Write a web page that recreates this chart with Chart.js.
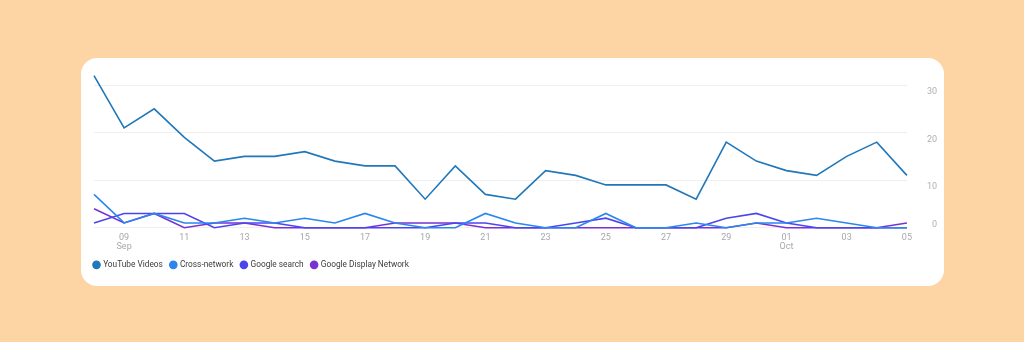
<!DOCTYPE html>
<html>
<head>
<meta charset="utf-8">
<script src="https://cdn.jsdelivr.net/npm/chart.js@4"></script>
<style>
  html, body { margin: 0; padding: 0; }
  body { width: 1024px; height: 342px; background: #fdd4a3; position: relative; overflow: hidden; font-family: Roboto, sans-serif; }
  .card { position: absolute; left: 81px; top: 58px; width: 863px; height: 228px; background: #fff; border-radius: 16px; }
  .card canvas { display: block; }
</style>
</head>
<body>
<div class="card"><canvas id="myChart"></canvas></div>
<script>
// data (Sep 08 -> Oct 05)

const days = ['08', '09', '10', '11', '12', '13', '14', '15', '16', '17', '18', '19', '20', '21',
  '22', '23', '24', '25', '26', '27', '28', '29', '30', '01', '02', '03', '04', '05'];
const monthTicks = [[1, 'Sep'], [23, 'Oct']];

const youtube = [32, 21, 25, 19, 14, 15, 15, 16, 14, 13, 13, 6, 13, 7, 6, 12, 11, 9, 9, 9, 6, 18, 14, 12, 11, 15, 18, 11];
const crossNetwork = [7, 1, 3, 1, 1, 2, 1, 2, 1, 3, 1, 0, 0, 3, 1, 0, 0, 3, 0, 0, 1, 0, 1, 1, 2, 1, 0, 0];
const googleSearch = [1, 3, 3, 3, 0, 1, 1, 0, 0, 0, 0, 0, 1, 1, 0, 0, 1, 2, 0, 0, 0, 2, 3, 1, 0, 0, 0, 0];
const displayNetwork = [4, 1, 3, 0, 1, 1, 0, 0, 0, 0, 1, 1, 1, 0, 0, 0, 0, 0, 0, 0, 0, 0, 1, 0, 0, 0, 0, 1];

const yTicks = [0, 10, 20, 30];

// chart

function series(label, data, color) {
  return {
    label: label,
    data: data,
    yAxisID: 'y',
    borderColor: color,
    backgroundColor: color,
    borderWidth: 1.6,
    pointRadius: 0,
    tension: 0,
    clip: false
  };
}

const ctx = document.getElementById('myChart');

new Chart(ctx, {
  type: 'line',
  data: {
    labels: days,
    datasets: [
      series('YouTube Videos', youtube, '#2178b9'),
      series('Cross-network', crossNetwork, '#2b86ee'),
      series('Google search', googleSearch, '#4b45ee'),
      series('Google Display Network', displayNetwork, '#7a31d4')
    ]
  },
  options: {
    responsive: true,
    maintainAspectRatio: false,
    animation: false,
    layout: {
      padding: { left: 5, right: 7, top: 20, bottom: 7 }
    },
    plugins: {
      tooltip: { enabled: false },
      legend: {
        position: 'bottom',
        align: 'start',
        labels: {
          usePointStyle: true,
          pointStyle: 'circle',
          boxWidth: 5,
          boxHeight: 5,
          padding: 8,
          color: '#3c3c3c',
          font: { family: 'Roboto', size: 8.3 }
        }
      }
    },
    scales: {
      x: {
        offset: false,
        grid: { display: false, drawTicks: false },
        border: { display: false },
        afterFit: function (axis) {
          axis.height = 25;
        },
        ticks: {
          autoSkip: false,
          maxRotation: 0,
          padding: 6,
          color: '#a8a8a8',
          font: { family: 'Roboto', size: 9, lineHeight: 0.95 },
          callback: function (val, i) {
            if (i % 2 === 0) return null;
            for (const m of monthTicks) {
              if (m[0] === i) return [days[i], m[1]];
            }
            return days[i];
          }
        }
      },
      // empty spacer so the plot starts a bit right of the legend
      spacer: {
        type: 'linear',
        position: 'left',
        display: true,
        grid: { display: false },
        border: { display: false },
        ticks: { display: false },
        afterFit: function (axis) {
          axis.width = 8;
        }
      },
      y: {
        position: 'right',
        min: 0,
        max: 30.65,
        afterBuildTicks: function (axis) {
          axis.ticks = yTicks.map(v => ({ value: v }));
        },
        grid: { color: '#efefef', drawTicks: false, lineWidth: 1 },
        border: { display: false },
        ticks: {
          padding: 10,
          crossAlign: 'far',
          color: '#b0b0b0',
          font: function (c) {
            return { family: 'Roboto', size: 9, lineHeight: c.tick && c.tick.value === 0 ? 0.7 : 1.55 };
          },
          // labels sit just below their line, the zero label just above it
          callback: function (val) {
            return val === 0 ? [String(val), ''] : ['', String(val)];
          }
        }
      }
    }
  }
});
</script>
</body>
</html>
